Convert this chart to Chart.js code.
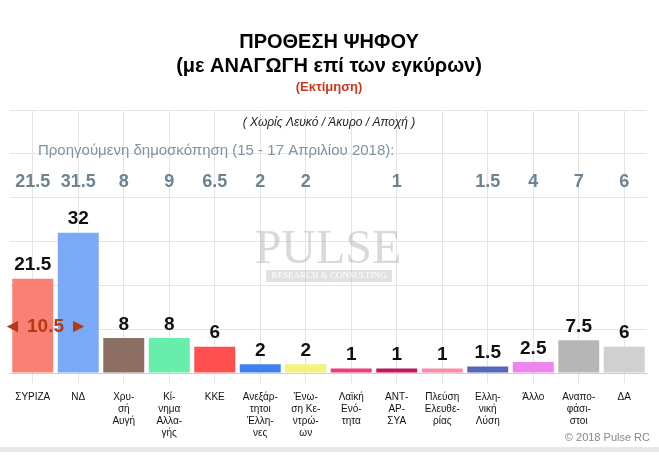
<!DOCTYPE html>
<html>
<head>
<meta charset="utf-8">
<script src="https://cdn.jsdelivr.net/npm/chart.js@4/dist/chart.umd.min.js"></script>
<style>
  body { margin: 0; background: #fff; }
  #wrap { width: 659px; height: 470px; }
</style>
</head>
<body>
<div id="wrap"><canvas id="myChart"></canvas></div>
<script>
const parties = [
    ['ΣΥΡΙΖΑ'], ['ΝΔ'], ['Χρυ-', 'σή', 'Αυγή'], ['Κί-', 'νημα', 'Αλλα-', 'γής'], ['ΚΚΕ'],
    ['Ανεξάρ-', 'τητοι', 'Έλλη-', 'νες'], ['Ένω-', 'ση Κε-', 'ντρώ-', 'ων'], ['Λαϊκή', 'Ενό-', 'τητα'],
    ['ΑΝΤ-', 'ΑΡ-', 'ΣΥΑ'], ['Πλεύση', 'Ελευθε-', 'ρίας'], ['Ελλη-', 'νική', 'Λύση'], ['Άλλο'],
    ['Αναπο-', 'φάσι-', 'στοι'], ['ΔΑ']
];
const values = [21.5, 32, 8, 8, 6, 2, 2, 1, 1, 1, 1.5, 2.5, 7.5, 6];
const previous = [21.5, 31.5, 8, 9, 6.5, 2, 2, null, 1, null, 1.5, 4, 7, 6];
const colors = ['#f98072', '#7aa9f7', '#8c6e63', '#66eeaa', '#ff4f4f', '#3f80ee', '#f2f27c',
    '#f03c7a', '#c0165a', '#ff8aa8', '#5566bb', '#ee84ee', '#b6b6b6', '#d0d0d0'];
const yTicks = [0, 10, 20, 30, 40, 50, 60];
const gap = 10.5;

const overlay = {
    id: 'overlay',
    beforeDatasetsDraw(chart) {
        const ctx = chart.ctx;
        ctx.save();
        ctx.textAlign = 'center';
        ctx.textBaseline = 'middle';
        ctx.font = '48px "Liberation Serif"';
        ctx.fillStyle = 'rgba(170,170,170,0.45)';
        ctx.fillText('PULSE', 328, 250);
        ctx.fillStyle = 'rgba(170,170,170,0.35)';
        ctx.fillRect(266, 270, 126, 12);
        ctx.font = '9px "Liberation Serif"';
        ctx.fillStyle = '#fff';
        ctx.fillText('RESEARCH & CONSULTING', 329, 276);
        ctx.restore();
    },
    afterDraw(chart) {
        const ctx = chart.ctx;
        const x = chart.scales.x;
        const y = chart.scales.y;
        ctx.save();
        ctx.textAlign = 'center';
        ctx.textBaseline = 'middle';
        ctx.fillStyle = '#000';
        ctx.font = 'bold 20px "Liberation Sans"';
        ctx.fillText('ΠΡΟΘΕΣΗ ΨΗΦΟΥ', 329, 42);
        ctx.fillText('(με ΑΝΑΓΩΓΗ επί των εγκύρων)', 329, 66);
        ctx.fillStyle = '#cc3a1e';
        ctx.font = 'bold 13px "Liberation Sans"';
        ctx.fillText('(Εκτίμηση)', 329, 87);
        ctx.fillStyle = '#222';
        ctx.font = 'italic 12px "Liberation Sans"';
        ctx.fillText('( Χωρίς Λευκό / Άκυρο / Αποχή )', 329, 123);
        ctx.fillStyle = '#7e93a4';
        ctx.font = '15px "Liberation Sans"';
        ctx.textAlign = 'left';
        ctx.fillText('Προηγούμενη δημοσκόπηση (15 - 17 Απριλίου 2018):', 38, 151);
        ctx.textAlign = 'center';
        ctx.fillStyle = '#6c8394';
        ctx.font = 'bold 18px "Liberation Sans"';
        previous.forEach((v, i) => {
            if (v !== null) ctx.fillText(String(v), x.getPixelForValue(i), 182);
        });
        // value labels
        ctx.fillStyle = '#111';
        ctx.font = 'bold 19px "Liberation Sans"';
        ctx.textBaseline = 'bottom';
        values.forEach((v, i) => {
            ctx.fillText(String(v), x.getPixelForValue(i), y.getPixelForValue(v) - 4);
        });
        // gap marker
        ctx.textBaseline = 'middle';
        ctx.fillStyle = '#b33a12';
        ctx.fillText('◄ ' + gap + ' ►', (x.getPixelForValue(0) + x.getPixelForValue(1)) / 2 - 10, 327);
        // footer
        ctx.fillStyle = '#888';
        ctx.font = '11px "Liberation Sans"';
        ctx.textAlign = 'right';
        ctx.fillText('© 2018 Pulse RC', 650, 438);
        ctx.fillStyle = '#e8e8e8';
        ctx.fillRect(0, 447, 659, 5);
        ctx.restore();
    }
};

new Chart(document.getElementById('myChart'), {
    type: 'bar',
    data: {
        labels: parties,
        datasets: [{
            data: values,
            backgroundColor: colors,
            categoryPercentage: 1,
            barPercentage: 0.9
        }]
    },
    options: {
        responsive: true,
        maintainAspectRatio: false,
        animation: false,
        layout: { padding: { top: 110, left: 10, right: 12, bottom: 23 } },
        plugins: { legend: { display: false }, tooltip: { enabled: false } },
        scales: {
            x: {
                offset: true,
                grid: { offset: false, color: '#e4e4e4', tickLength: 10, drawTicks: true },
                border: { color: '#cfcfcf' },
                ticks: { color: '#111', font: { family: '"Liberation Sans Narrow", "Liberation Sans"', size: 10 }, padding: 8, maxRotation: 0, autoSkip: false }
            },
            y: {
                min: yTicks[0],
                max: yTicks[yTicks.length - 1],
                afterBuildTicks: (s) => { s.ticks = yTicks.map(v => ({ value: v })); },
                ticks: { display: false },
                grid: { color: '#e4e4e4', drawTicks: false },
                border: { display: false }
            }
        }
    },
    plugins: [overlay]
});
</script>
</body>
</html>
